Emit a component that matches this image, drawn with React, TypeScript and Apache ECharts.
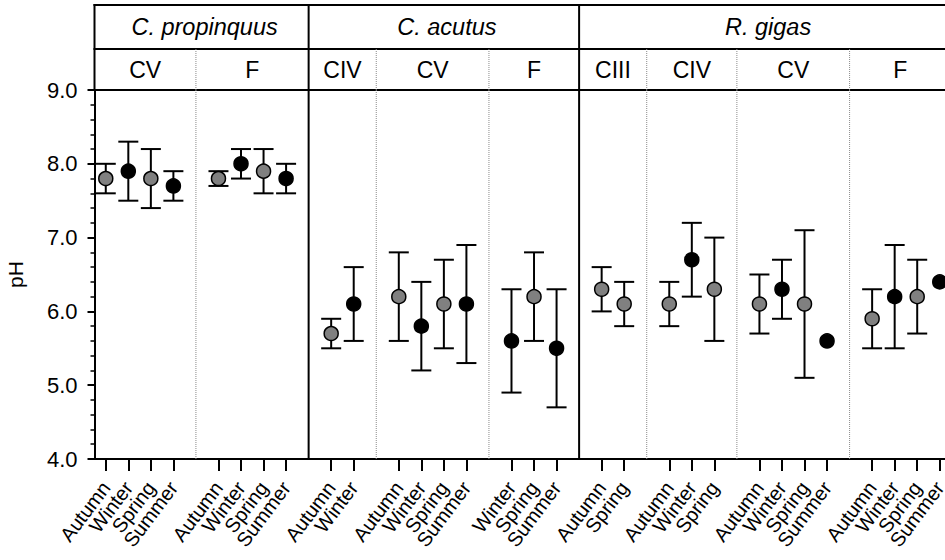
import React, { useEffect, useRef } from 'react';
import * as echarts from 'echarts';

// ---------- data ----------
const seasonLabels = [
  'Autumn', 'Winter', 'Spring', 'Summer', '',
  'Autumn', 'Winter', 'Spring', 'Summer', '',
  'Autumn', 'Winter', '',
  'Autumn', 'Winter', 'Spring', 'Summer', '',
  'Winter', 'Spring', 'Summer', '',
  'Autumn', 'Spring', '',
  'Autumn', 'Winter', 'Spring', '',
  'Autumn', 'Winter', 'Spring', 'Summer', '',
  'Autumn', 'Winter', 'Spring', 'Summer',
];

const meanPH = [
  7.8, 7.9, 7.8, 7.7, null,
  7.8, 8.0, 7.9, 7.8, null,
  5.7, 6.1, null,
  6.2, 5.8, 6.1, 6.1, null,
  5.6, 6.2, 5.5, null,
  6.3, 6.1, null,
  6.1, 6.7, 6.3, null,
  6.1, 6.3, 6.1, 5.6, null,
  5.9, 6.2, 6.2, 6.4,
];

const lowPH = [
  7.6, 7.5, 7.4, 7.5, null,
  7.7, 7.8, 7.6, 7.6, null,
  5.5, 5.6, null,
  5.6, 5.2, 5.5, 5.3, null,
  4.9, 5.6, 4.7, null,
  6.0, 5.8, null,
  5.8, 6.2, 5.6, null,
  5.7, 5.9, 5.1, null, null,
  5.5, 5.5, 5.7, null,
];

const highPH = [
  8.0, 8.3, 8.2, 7.9, null,
  7.9, 8.2, 8.2, 8.0, null,
  5.9, 6.6, null,
  6.8, 6.4, 6.7, 6.9, null,
  6.3, 6.8, 6.3, null,
  6.6, 6.4, null,
  6.4, 7.2, 7.0, null,
  6.5, 6.7, 7.1, null, null,
  6.3, 6.9, 6.7, null,
];

const speciesNames = ['C. propinquus', 'C. acutus', 'R. gigas'];
const speciesBounds = [-1, 9, 21, 38];
const stageNames = ['CV', 'F', 'CIV', 'CV', 'F', 'CIII', 'CIV', 'CV', 'F'];
const stageBounds = [-1, 4, 9, 12, 17, 21, 24, 28, 33, 38];
const darkSeasons = ['Winter', 'Summer'];

// ---------- layout / style ----------
const FONT = 'Liberation Sans, Arial, sans-serif';
const N = seasonLabels.length;
const GRID_LEFT = 94.5;
const BAND = 22.54;
const HEADER_SPLIT = 41 / 85;

export default function App() {
  const ref = useRef<HTMLDivElement>(null);

  useEffect(() => {
    const el = ref.current;
    if (!el) return;
    const chart = echarts.init(el, null, { renderer: 'svg' });

    const boundX = (api: any, cs: any, b: number) => {
      if (b < 0) return cs.x;
      if (b >= N) return cs.x + cs.width;
      return api.coord([b, 0])[0];
    };

    const innerStage = stageBounds.filter(
      (b) => b >= 0 && b < N && speciesBounds.indexOf(b) < 0
    );
    const innerSpecies = speciesBounds.filter((b) => b >= 0 && b < N);

    const headerRender = (params: any, api: any) => {
      const cs = params.coordSys;
      const yTop = api.coord([0, 1])[1];
      const ySplit = api.coord([0, HEADER_SPLIT])[1];
      const yBot = api.coord([0, 0])[1];
      const xL = cs.x;
      const xR = cs.x + cs.width;
      const solid = { stroke: '#000', lineWidth: 2 };
      const children: any[] = [];
      [yTop, ySplit, yBot].forEach((y) =>
        children.push({ type: 'line', shape: { x1: xL - 1, y1: y, x2: xR, y2: y }, style: solid })
      );
      children.push({ type: 'line', shape: { x1: xL, y1: yTop - 1, x2: xL, y2: yBot }, style: solid });
      innerSpecies.forEach((b) => {
        const x = boundX(api, cs, b);
        children.push({ type: 'line', shape: { x1: x, y1: yTop, x2: x, y2: yBot }, style: solid });
      });
      innerStage.forEach((b) => {
        const x = boundX(api, cs, b);
        children.push({
          type: 'line',
          shape: { x1: x, y1: ySplit, x2: x, y2: yBot },
          style: { stroke: '#8a8a8a', lineWidth: 1, lineDash: [1, 1] },
        });
      });
      speciesNames.forEach((name, i) => {
        const x = (boundX(api, cs, speciesBounds[i]) + boundX(api, cs, speciesBounds[i + 1])) / 2;
        children.push({
          type: 'text',
          x: x + 3,
          y: (yTop + ySplit) / 2,
          style: {
            text: name,
            fontSize: 23.5,
            fontStyle: 'italic',
            fontFamily: FONT,
            fill: '#000',
            align: 'center',
            verticalAlign: 'middle',
          },
        });
      });
      stageNames.forEach((name, i) => {
        const x = (boundX(api, cs, stageBounds[i]) + boundX(api, cs, stageBounds[i + 1])) / 2;
        children.push({
          type: 'text',
          x,
          y: (ySplit + yBot) / 2,
          style: {
            text: name,
            fontSize: 23,
            fontFamily: FONT,
            fill: '#000',
            align: 'center',
            verticalAlign: 'middle',
          },
        });
      });
      return { type: 'group', children };
    };

    const dividerRender = (params: any, api: any) => {
      const cs = params.coordSys;
      const children: any[] = [];
      innerSpecies.forEach((b) => {
        const x = boundX(api, cs, b);
        children.push({
          type: 'line',
          shape: { x1: x, y1: cs.y, x2: x, y2: cs.y + cs.height },
          style: { stroke: '#000', lineWidth: 2 },
        });
      });
      innerStage.forEach((b) => {
        const x = boundX(api, cs, b);
        children.push({
          type: 'line',
          shape: { x1: x, y1: cs.y, x2: x, y2: cs.y + cs.height },
          style: { stroke: '#8a8a8a', lineWidth: 1, lineDash: [1, 1] },
        });
      });
      return { type: 'group', children };
    };

    const errorData: any[] = [];
    seasonLabels.forEach((s, i) => {
      if (lowPH[i] != null && highPH[i] != null) errorData.push([i, lowPH[i], highPH[i]]);
    });

    const errorRender = (params: any, api: any) => {
      const i = api.value(0);
      const lo = api.coord([i, api.value(1)]);
      const hi = api.coord([i, api.value(2)]);
      const half = 10;
      const st = { stroke: '#000', lineWidth: 2 };
      return {
        type: 'group',
        children: [
          { type: 'line', shape: { x1: lo[0], y1: lo[1], x2: hi[0], y2: hi[1] }, style: st },
          { type: 'line', shape: { x1: lo[0] - half, y1: lo[1], x2: lo[0] + half, y2: lo[1] }, style: st },
          { type: 'line', shape: { x1: hi[0] - half, y1: hi[1], x2: hi[0] + half, y2: hi[1] }, style: st },
        ],
      };
    };

    const pointData: any[] = [];
    seasonLabels.forEach((s, i) => {
      if (meanPH[i] != null) {
        pointData.push({
          value: [i, meanPH[i]],
          itemStyle: { color: darkSeasons.indexOf(s) >= 0 ? '#000' : '#808080' },
        });
      }
    });

    const categoryKeys = seasonLabels.map((_, i) => String(i));

    const option: any = {
      animation: false,
      backgroundColor: '#fff',
      textStyle: { fontFamily: FONT },
      grid: [
        { left: GRID_LEFT, top: 90, width: BAND * N, height: 369, outerBoundsMode: 'none', containLabel: false },
        { left: GRID_LEFT, top: 5, width: BAND * N, height: 85, outerBoundsMode: 'none', containLabel: false },
      ],
      xAxis: [
        {
          type: 'category',
          gridIndex: 0,
          data: categoryKeys,
          boundaryGap: true,
          axisLine: { show: true, lineStyle: { color: '#000', width: 2 } },
          axisTick: {
            show: true,
            alignWithLabel: true,
            length: 12,
            lineStyle: { color: '#000', width: 2 },
            interval: (idx: number) => seasonLabels[idx] !== '',
          },
          axisLabel: {
            interval: 0,
            rotate: 53,
            margin: 25,
            fontSize: 20,
            color: '#000',
            fontFamily: FONT,
            hideOverlap: false,
            formatter: (v: string) => seasonLabels[Number(v)],
          },
          splitLine: { show: false },
        },
        {
          type: 'category',
          gridIndex: 1,
          data: categoryKeys,
          boundaryGap: true,
          show: false,
        },
      ],
      yAxis: [
        {
          type: 'value',
          gridIndex: 0,
          min: 4,
          max: 9,
          interval: 1,
          name: 'pH',
          nameLocation: 'middle',
          nameGap: 69,
          nameRotate: 90,
          nameMoveOverlap: false,
          nameTextStyle: { fontSize: 21, color: '#000', fontFamily: FONT },
          axisLine: { show: true, lineStyle: { color: '#000', width: 2 } },
          axisTick: { show: true, length: 7, lineStyle: { color: '#000', width: 2 } },
          minorTick: { show: true, splitNumber: 5, length: 4, lineStyle: { color: '#000', width: 1.5 } },
          axisLabel: {
            margin: 17,
            fontSize: 22,
            color: '#000',
            fontFamily: FONT,
            formatter: (v: number) => v.toFixed(1),
          },
          splitLine: { show: false },
        },
        {
          type: 'value',
          gridIndex: 1,
          min: 0,
          max: 1,
          show: false,
        },
      ],
      series: [
        {
          type: 'custom',
          xAxisIndex: 1,
          yAxisIndex: 1,
          data: [[0, 0]],
          renderItem: headerRender,
          z: 1,
          silent: true,
        },
        {
          type: 'custom',
          xAxisIndex: 0,
          yAxisIndex: 0,
          data: [[0, 4]],
          renderItem: dividerRender,
          z: 1,
          silent: true,
        },
        {
          type: 'custom',
          xAxisIndex: 0,
          yAxisIndex: 0,
          data: errorData,
          renderItem: errorRender,
          z: 2,
          silent: true,
        },
        {
          type: 'scatter',
          xAxisIndex: 0,
          yAxisIndex: 0,
          data: pointData,
          symbol: 'circle',
          symbolSize: 14,
          itemStyle: { borderColor: '#000', borderWidth: 1.5, opacity: 1 },
          z: 3,
          silent: true,
        },
      ],
    };

    chart.setOption(option);
    return () => chart.dispose();
  }, []);

  return (
    <div
      ref={ref}
      style={{ position: 'fixed', left: 0, top: 0, width: 945, height: 560, background: '#fff' }}
    />
  );
}
